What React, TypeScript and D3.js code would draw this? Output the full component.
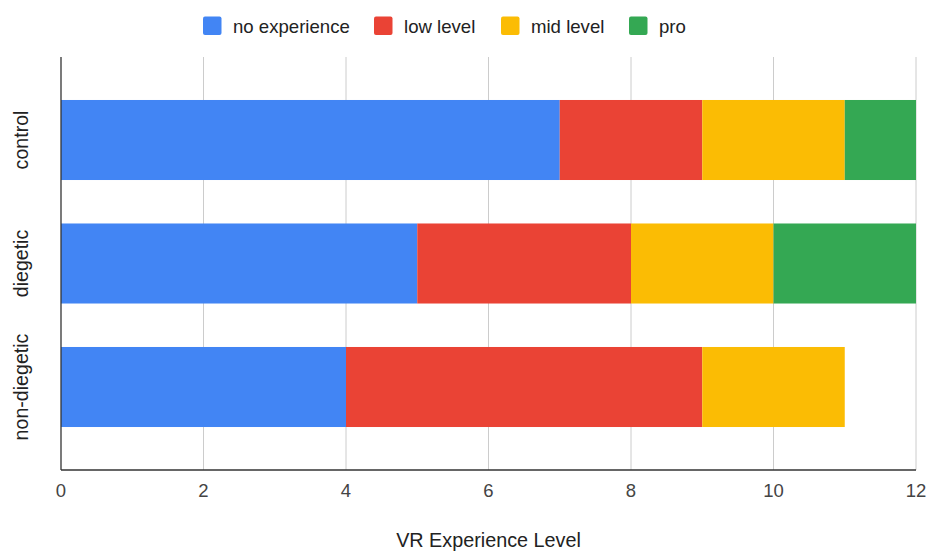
import React from "react";
import * as d3 from "d3";

const groups = ["control", "diegetic", "non-diegetic"];
const levels = ["no experience", "low level", "mid level", "pro"];
const colors = ["#4285f4", "#ea4335", "#fbbc04", "#34a853"];
const noExperience = [7, 5, 4];
const lowLevel = [2, 3, 5];
const midLevel = [2, 2, 2];
const pro = [1, 2, 0];
const xTicks = [0, 2, 4, 6, 8, 10, 12];

const W = 928;
const H = 552;
const left = 61;
const right = 916;
const top = 57;
const bottom = 470;

export default function App() {
  const rows = groups.map((g, i) => ({
    group: g,
    "no experience": noExperience[i],
    "low level": lowLevel[i],
    "mid level": midLevel[i],
    pro: pro[i],
  }));
  const stacked = d3.stack<any>().keys(levels)(rows);
  const x = d3.scaleLinear().domain([0, 12]).range([left, right]);
  const y = d3
    .scaleBand()
    .domain(groups)
    .range([78.25, 448.75])
    .paddingInner(0.352)
    .paddingOuter(0.176);

  const legendX = [203, 374, 501, 629];
  const font = "'Liberation Sans', Arial, sans-serif";

  return (
    <svg
      width={W}
      height={H}
      style={{ position: "absolute", left: 0, top: 0 }}
      fontFamily={font}
    >
      <rect width={W} height={H} fill="#fff" />
      {/* legend */}
      {levels.map((lv, i) => (
        <g key={lv}>
          <rect
            x={legendX[i]}
            y={16.5}
            width={18.5}
            height={18.5}
            rx={2}
            fill={colors[i]}
          />
          <text x={legendX[i] + 30} y={33} fontSize={18.6} fill="#222">
            {lv}
          </text>
        </g>
      ))}
      {/* vertical gridlines */}
      {xTicks
        .filter((t) => t > 0)
        .map((t) => (
          <line
            key={t}
            x1={x(t)}
            x2={x(t)}
            y1={top}
            y2={bottom}
            stroke="#cccccc"
            strokeWidth={1}
          />
        ))}
      {/* stacked bars */}
      {stacked.map((layer, li) => (
        <g key={layer.key} fill={colors[li]}>
          {layer.map((d, i) =>
            d[1] - d[0] > 0 ? (
              <rect
                key={i}
                x={x(d[0])}
                width={x(d[1]) - x(d[0])}
                y={y(groups[i])}
                height={y.bandwidth()}
              />
            ) : null
          )}
        </g>
      ))}
      {/* axes lines */}
      <line x1={left} x2={left} y1={top} y2={bottom} stroke="#333" strokeWidth={1.3} />
      <line x1={left} x2={right} y1={bottom} y2={bottom} stroke="#333" strokeWidth={1.3} />
      {/* x tick labels */}
      {xTicks.map((t) => (
        <text
          key={t}
          x={x(t)}
          y={497}
          textAnchor="middle"
          fontSize={18.5}
          fill="#444"
        >
          {t}
        </text>
      ))}
      {/* y category labels */}
      {groups.map((g) => {
        const cy = (y(g) ?? 0) + y.bandwidth() / 2;
        return (
          <text
            key={g}
            transform={`translate(28,${cy}) rotate(-90)`}
            textAnchor="middle"
            fontSize={19.6}
            fill="#222"
          >
            {g}
          </text>
        );
      })}
      {/* x axis title */}
      <text
        x={(left + right) / 2}
        y={547}
        textAnchor="middle"
        fontSize={19.8}
        fill="#222"
      >
        VR Experience Level
      </text>
    </svg>
  );
}
